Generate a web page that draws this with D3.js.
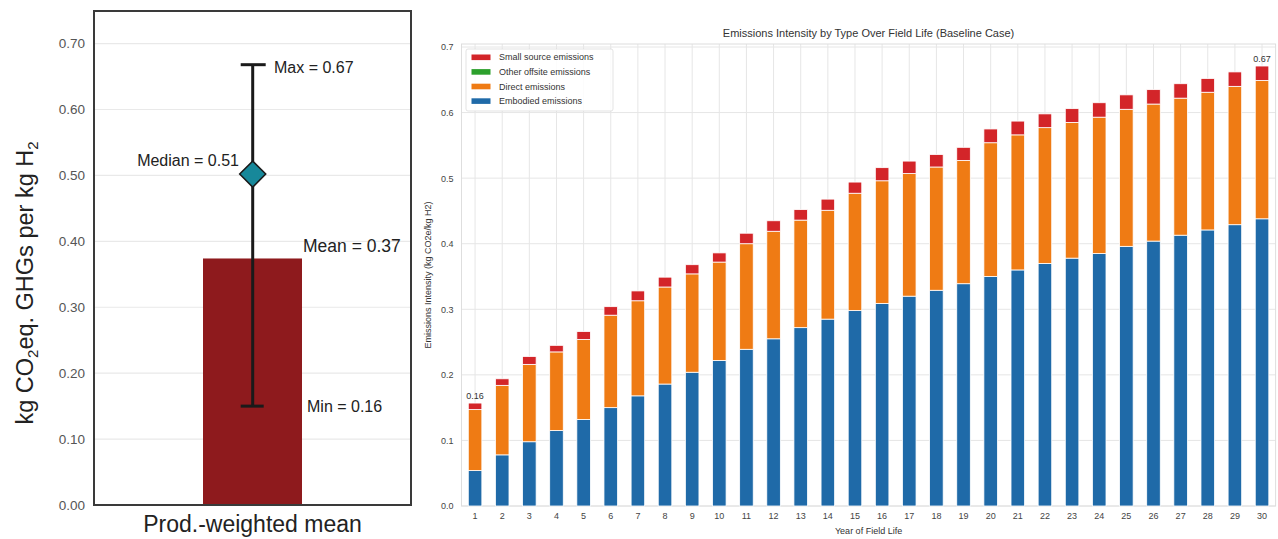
<!DOCTYPE html>
<html>
<head>
<meta charset="utf-8">
<script src="https://cdn.jsdelivr.net/npm/d3@7"></script>
<style>
  body { margin: 0; background: #fff; }
  svg { display: block; font-family: "Liberation Sans", Arial, sans-serif; }
</style>
</head>
<body>
<div class="container_main"></div>
<script>
// left panel: production-weighted summary
const summaryTicks = [0, 0.1, 0.2, 0.3, 0.4, 0.5, 0.6, 0.7];
const meanValue = 0.374;
const errMax = 0.668;
const errMin = 0.15;
const medianValue = 0.502;
const summaryLabels = ["Max = 0.67", "Median = 0.51", "Mean = 0.37", "Min = 0.16"];

// right panel: stacked bars by year
const years = d3.range(1, 31);
const seriesNames = ["Embodied emissions", "Direct emissions", "Other offsite emissions", "Small source emissions"];
const embodied = [0.054,0.078,0.098,0.115,0.132,0.150,0.168,0.186,0.204,0.222,0.239,0.255,0.272,0.285,0.298,
                  0.309,0.320,0.329,0.339,0.350,0.360,0.370,0.378,0.385,0.396,0.404,0.413,0.421,0.429,0.438];
const direct = [0.093,0.106,0.118,0.120,0.122,0.141,0.145,0.148,0.150,0.150,0.161,0.164,0.164,0.166,0.179,
                0.187,0.187,0.188,0.188,0.204,0.206,0.207,0.207,0.208,0.209,0.209,0.209,0.210,0.211,0.211];
const otherOffsite = [0,0,0,0,0,0,0,0,0,0,0,0,0,0,0,0,0,0,0,0,0,0,0,0,0,0,0,0,0,0];
const smallSource = [0.010,0.010,0.012,0.010,0.012,0.013,0.015,0.015,0.014,0.014,0.016,0.016,0.016,0.017,0.017,
                     0.020,0.019,0.019,0.020,0.021,0.021,0.021,0.021,0.022,0.022,0.022,0.022,0.021,0.022,0.022];
const yTicksRight = [0, 0.1, 0.2, 0.3, 0.4, 0.5, 0.6, 0.7];
const endLabels = [{year: 1, text: "0.16"}, {year: 30, text: "0.67"}];

const svg = d3.select(".container_main").append("svg")
    .attr("width", 1278).attr("height", 539);

// ---------- left panel ----------
const left = svg.append("g");
const fx0 = 94, fx1 = 411, fy0 = 11, fy1 = 505;
const ly = d3.scaleLinear().domain([0, 0.7]).range([505, 43.6]);

left.selectAll(".lgrid").data(summaryTicks.slice(1)).enter().append("line")
    .attr("x1", fx0).attr("x2", fx1)
    .attr("y1", d => ly(d)).attr("y2", d => ly(d))
    .attr("stroke", "#e9e9e9").attr("stroke-width", 1.2);

left.selectAll(".ltick").data(summaryTicks).enter().append("text")
    .attr("x", 85).attr("y", d => ly(d)).attr("dy", "0.35em")
    .attr("text-anchor", "end").attr("font-size", 13.5).attr("fill", "#555")
    .text(d => d.toFixed(2));

const bx0 = 203, bx1 = 302;
left.append("rect")
    .attr("x", bx0).attr("width", bx1 - bx0)
    .attr("y", ly(meanValue)).attr("height", ly(0) - ly(meanValue))
    .attr("fill", "#8e1a1d");

const cx = 252.7;
left.append("line").attr("x1", cx).attr("x2", cx).attr("y1", ly(errMax)).attr("y2", ly(errMin))
    .attr("stroke", "#1a1a1a").attr("stroke-width", 3);
left.append("line").attr("x1", cx - 12).attr("x2", cx + 13).attr("y1", ly(errMax)).attr("y2", ly(errMax))
    .attr("stroke", "#1a1a1a").attr("stroke-width", 3);
left.append("line").attr("x1", cx - 12).attr("x2", cx + 11).attr("y1", ly(errMin)).attr("y2", ly(errMin))
    .attr("stroke", "#1a1a1a").attr("stroke-width", 3);
left.append("path")
    .attr("d", d3.symbol(d3.symbolSquare, 340)())
    .attr("transform", `translate(${cx},${ly(medianValue)}) rotate(45)`)
    .attr("fill", "#17889a").attr("stroke", "#1a1a1a").attr("stroke-width", 1.5);

left.append("rect").attr("x", fx0).attr("y", fy0).attr("width", fx1 - fx0).attr("height", fy1 - fy0)
    .attr("fill", "none").attr("stroke", "#3a3a3a").attr("stroke-width", 2);

const annot = [
  {t: summaryLabels[0], x: 274, y: 73, a: "start", s: 16},
  {t: summaryLabels[1], x: 239, y: 166, a: "end", s: 16},
  {t: summaryLabels[2], x: 303, y: 252, a: "start", s: 17.5},
  {t: summaryLabels[3], x: 307, y: 412, a: "start", s: 16}
];
left.selectAll(".annot").data(annot).enter().append("text")
    .attr("x", d => d.x).attr("y", d => d.y).attr("text-anchor", d => d.a)
    .attr("font-size", d => d.s).attr("fill", "#222").text(d => d.t);

left.append("text").attr("x", 252.5).attr("y", 532).attr("text-anchor", "middle")
    .attr("font-size", 23).attr("fill", "#222").text("Prod.-weighted mean");

const ylab = left.append("text")
    .attr("transform", "translate(33,283) rotate(-90)")
    .attr("text-anchor", "middle").attr("font-size", 23.5).attr("fill", "#222");
ylab.append("tspan").text("kg CO");
ylab.append("tspan").attr("font-size", 15).attr("dy", 5).text("2");
ylab.append("tspan").attr("dy", -5).text("eq. GHGs per kg H");
ylab.append("tspan").attr("font-size", 15).attr("dy", 5).text("2");

// ---------- right panel ----------
const right = svg.append("g");
const px0 = 461.5, px1 = 1275.6, py0 = 44, py1 = 506;
const x = d3.scaleBand().domain(years).range([px0, px1]).paddingInner(0.5).paddingOuter(0.25);
const y = d3.scaleLinear().domain([0, 0.7]).range([py1, 47]);

// grid
right.selectAll(".hgrid").data(yTicksRight).enter().append("line")
    .attr("x1", px0).attr("x2", px1).attr("y1", d => y(d)).attr("y2", d => y(d))
    .attr("stroke", "#e6e6e6").attr("stroke-width", 1);
right.selectAll(".vgrid").data(years).enter().append("line")
    .attr("x1", d => x(d) + x.bandwidth() / 2).attr("x2", d => x(d) + x.bandwidth() / 2)
    .attr("y1", py0).attr("y2", py1)
    .attr("stroke", "#e6e6e6").attr("stroke-width", 1);
right.append("rect").attr("x", px0).attr("y", py0).attr("width", px1 - px0).attr("height", py1 - py0)
    .attr("fill", "none").attr("stroke", "#dedede").attr("stroke-width", 1);

const table = years.map((yr, i) => ({
  year: yr,
  "Embodied emissions": embodied[i],
  "Direct emissions": direct[i],
  "Other offsite emissions": otherOffsite[i],
  "Small source emissions": smallSource[i]
}));
const stacked = d3.stack().keys(seriesNames)(table);
const color = d3.scaleOrdinal().domain(seriesNames)
    .range(["#1f6aa8", "#ef7b14", "#2ca02c", "#d32529"]);

right.selectAll(".layer").data(stacked).enter().append("g")
    .attr("fill", d => color(d.key))
  .selectAll("rect").data(d => d.filter(p => p[1] - p[0] > 0)).enter().append("rect")
    .attr("x", d => x(d.data.year)).attr("width", x.bandwidth())
    .attr("y", d => y(d[1])).attr("height", d => y(d[0]) - y(d[1]))
    .attr("stroke", "#fff").attr("stroke-width", 0.8);

// end labels
const totals = table.map(d => seriesNames.reduce((s, k) => s + d[k], 0));
right.selectAll(".endlab").data(endLabels).enter().append("text")
    .attr("x", d => x(d.year) + x.bandwidth() / 2)
    .attr("y", d => y(totals[d.year - 1]) - 4)
    .attr("text-anchor", "middle").attr("font-size", 9).attr("fill", "#333").text(d => d.text);

// axes
right.append("g").attr("transform", `translate(0,${py1})`)
    .call(d3.axisBottom(x).tickSize(0).tickPadding(7))
    .call(g => g.select(".domain").remove())
    .call(g => g.selectAll("text").attr("font-size", 9).attr("fill", "#444")
        .attr("font-family", "Liberation Sans, Arial, sans-serif"));
right.append("g").attr("transform", `translate(${px0},0)`)
    .call(d3.axisLeft(y).tickValues(yTicksRight).tickFormat(d3.format(".1f")).tickSize(0).tickPadding(8))
    .call(g => g.select(".domain").remove())
    .call(g => g.selectAll("text").attr("font-size", 9).attr("fill", "#444")
        .attr("font-family", "Liberation Sans, Arial, sans-serif"));

right.append("text").attr("x", (px0 + px1) / 2).attr("y", 37).attr("text-anchor", "middle")
    .attr("font-size", 11).attr("fill", "#333").text("Emissions Intensity by Type Over Field Life (Baseline Case)");
right.append("text").attr("x", (px0 + px1) / 2).attr("y", 534).attr("text-anchor", "middle")
    .attr("font-size", 9).attr("fill", "#333").text("Year of Field Life");
right.append("text").attr("transform", `translate(431,${(py0 + py1) / 2}) rotate(-90)`)
    .attr("text-anchor", "middle").attr("font-size", 9).attr("fill", "#333")
    .text("Emissions Intensity (kg CO2e/kg H2)");

// legend (reverse order, top = last series)
const legend = right.append("g");
legend.append("rect").attr("x", 466).attr("y", 49).attr("width", 147).attr("height", 62)
    .attr("rx", 2).attr("fill", "#fff").attr("fill-opacity", 0.85)
    .attr("stroke", "#dcdcdc").attr("stroke-width", 0.8);
const legendItems = seriesNames.slice().reverse();
legendItems.forEach((name, i) => {
  const ry = 57.3 + i * 14.6;
  legend.append("rect").attr("x", 471.5).attr("y", ry - 2.8).attr("width", 19).attr("height", 5.6)
      .attr("fill", color(name));
  legend.append("text").attr("x", 499).attr("y", ry).attr("dy", "0.35em")
      .attr("font-size", 9).attr("fill", "#333").text(name);
});
</script>
</body>
</html>
